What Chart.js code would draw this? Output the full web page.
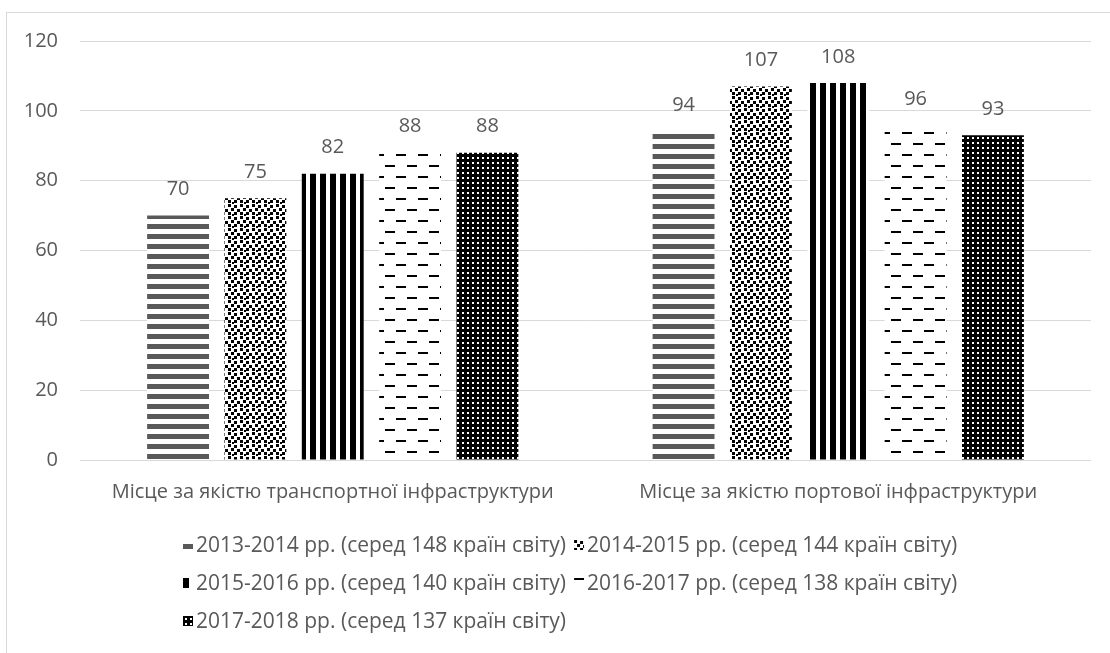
<!DOCTYPE html>
<html>
<head>
<meta charset="utf-8">
<script src="https://cdn.jsdelivr.net/npm/chart.js@4.4.1/dist/chart.umd.min.js"></script>
<style>
  html, body { margin: 0; padding: 0; background: #fff; }
</style>
</head>
<body>
<canvas id="chart" width="1110" height="653"></canvas>
<script>
'use strict';

// data
var categories = [
  'Місце за якістю транспортної інфраструктури',
  'Місце за якістю портової інфраструктури'
];
var seriesNames = [
  '2013-2014 рр. (серед 148 країн світу)',
  '2014-2015 рр. (серед 144 країн світу)',
  '2015-2016 рр. (серед 140 країн світу)',
  '2016-2017 рр. (серед 138 країн світу)',
  '2017-2018 рр. (серед 137 країн світу)'
];
var values2013 = [70, 94];
var values2014 = [75, 107];
var values2015 = [82, 108];
var values2016 = [88, 96];
var values2017 = [88, 93];
var yTicks = [0, 20, 40, 60, 80, 100, 120];

var FONT = '"Open Sans", "Noto Sans", sans-serif';
var TEXT = '#595959';
var GRID = '#d9d9d9';

var canvas = document.getElementById('chart');
var ctx = canvas.getContext('2d');

// fill patterns like the excel ones
function makePattern(w, h, draw) {
  var tile = document.createElement('canvas');
  tile.width = w;
  tile.height = h;
  var g = tile.getContext('2d');
  g.fillStyle = '#fff';
  g.fillRect(0, 0, w, h);
  draw(g);
  return ctx.createPattern(tile, 'repeat');
}

var hStripes = makePattern(10, 10, function(g) {
  g.fillStyle = '#595959';
  g.fillRect(0, 4, 10, 5);
});
var confetti = makePattern(12, 12, function(g) {
  g.fillStyle = '#000';
  g.fillRect(0, 0, 3, 3);
  g.fillRect(6, 1, 3, 3);
  g.fillRect(3, 4, 3, 3);
  g.fillRect(9, 5, 3, 3);
  g.fillRect(0, 8, 3, 3);
  g.fillRect(6, 8, 3, 3);
  g.fillRect(4, 10, 2, 2);
});
var vStripes = makePattern(10, 10, function(g) {
  g.fillStyle = '#000';
  g.fillRect(0, 0, 6, 10);
});
var dashes = makePattern(22, 22, function(g) {
  g.fillStyle = '#000';
  g.fillRect(0, 0, 10, 2);
  g.fillRect(11, 11, 10, 2);
});
var smallGrid = makePattern(5, 5, function(g) {
  g.fillStyle = '#000';
  g.fillRect(0, 0, 5, 5);
  g.fillStyle = '#fff';
  g.fillRect(2, 2, 2, 2);
});

var fills = [hStripes, confetti, vStripes, dashes, smallGrid];
var seriesValues = [values2013, values2014, values2015, values2016, values2017];

var datasets = seriesNames.map(function(name, i) {
  return {
    label: name,
    data: seriesValues[i],
    backgroundColor: fills[i],
    borderWidth: 0
  };
});

var frame = {
  id: 'frame',
  beforeDraw: function(chart) {
    var c = chart.ctx;
    c.save();
    c.fillStyle = '#fff';
    c.fillRect(0, 0, chart.width, chart.height);
    c.strokeStyle = GRID;
    c.lineWidth = 1;
    c.strokeRect(6.5, 12.5, 1200, 800);
    c.restore();
  }
};

var valueLabels = {
  id: 'valueLabels',
  afterDatasetsDraw: function(chart) {
    var c = chart.ctx;
    c.save();
    c.font = '20px ' + FONT;
    c.fillStyle = TEXT;
    c.textAlign = 'center';
    c.textBaseline = 'middle';
    chart.data.datasets.forEach(function(ds, i) {
      chart.getDatasetMeta(i).data.forEach(function(bar, j) {
        c.fillText(ds.data[j], bar.x, bar.y - 26);
      });
    });
    c.restore();
  }
};

// legend drawn by hand so rows start at the left like in excel
var legendBox = {
  id: 'legendBox',
  afterDraw: function(chart) {
    var c = chart.ctx;
    c.save();
    c.font = '21px ' + FONT;
    c.textBaseline = 'middle';
    c.textAlign = 'left';
    var x0 = 183, x = x0, y = 545, maxX = 1000;
    chart.data.datasets.forEach(function(ds) {
      var w = 13 + c.measureText(ds.label).width + 8;
      if (x + w > maxX && x > x0) {
        x = x0;
        y += 38;
      }
      // move pattern origin onto the swatch so it shows a piece of the fill
      c.save();
      c.translate(x, y - 5);
      c.fillStyle = ds.backgroundColor;
      c.fillRect(0, 0, 10, 10);
      c.restore();
      c.fillStyle = TEXT;
      c.fillText(ds.label, x + 13, y + 1);
      x += w;
    });
    c.restore();
  }
};

new Chart(ctx, {
  type: 'bar',
  data: {
    labels: categories,
    datasets: datasets
  },
  options: {
    responsive: false,
    animation: false,
    layout: { padding: { left: 0, right: 19, top: 41, bottom: 133 } },
    datasets: {
      bar: { categoryPercentage: 0.765, barPercentage: 0.8 }
    },
    plugins: {
      legend: { display: false },
      tooltip: { enabled: false }
    },
    scales: {
      x: {
        grid: { display: false, drawTicks: false },
        border: { display: false },
        ticks: { color: TEXT, font: { family: FONT, size: 20 }, padding: 20, maxRotation: 0 },
        afterFit: function(s) { s.height = 60; }
      },
      y: {
        min: 0,
        max: 120,
        afterBuildTicks: function(s) {
          s.ticks = yTicks.map(function(v) { return { value: v }; });
        },
        grid: { color: GRID, lineWidth: 1, drawTicks: false },
        border: { display: false },
        ticks: { color: TEXT, font: { family: FONT, size: 20 }, padding: 22 },
        afterFit: function(s) { s.width = 80; }
      }
    }
  },
  plugins: [frame, valueLabels, legendBox]
});
</script>
</body>
</html>
